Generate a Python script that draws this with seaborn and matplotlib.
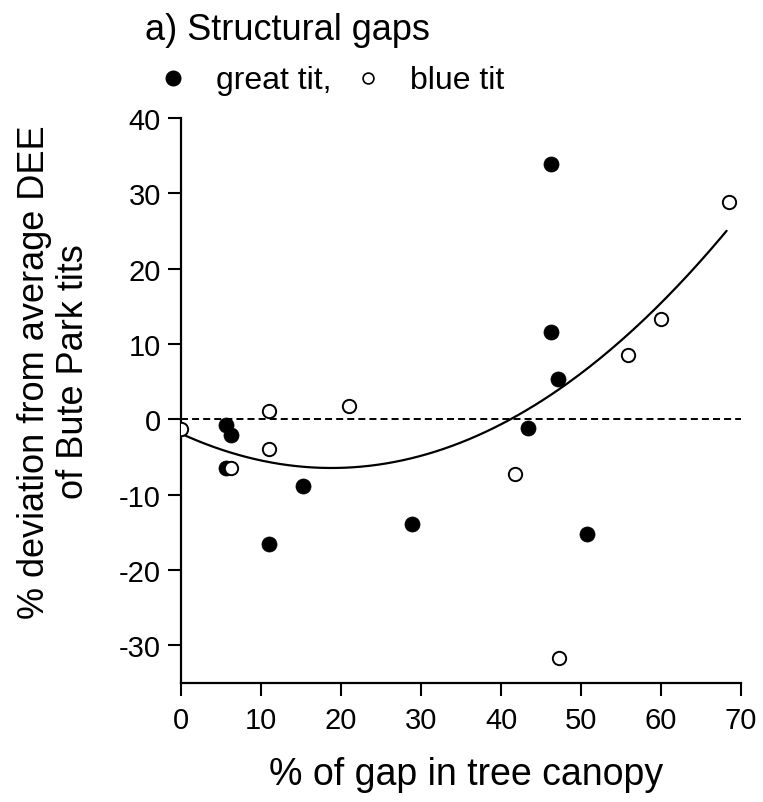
import numpy as np
import pandas as pd
import matplotlib
matplotlib.use("Agg")
import matplotlib.pyplot as plt
from matplotlib.lines import Line2D
import seaborn as sns

sns.set_style("ticks")
plt.rcParams['font.family'] = ['Liberation Sans', 'DejaVu Sans']
plt.rcParams['axes.unicode_minus'] = False
plt.rcParams['text.color'] = 'black'
plt.rcParams['axes.labelcolor'] = 'black'
plt.rcParams['xtick.color'] = 'black'
plt.rcParams['ytick.color'] = 'black'
plt.rcParams['axes.edgecolor'] = 'black'

# Data
great_gap = [5.6, 6.2, 5.6, 15.2, 11.0, 28.9, 46.3, 46.3, 47.1, 43.4, 50.8]
great_dev = [-0.7, -2.1, -6.5, -8.9, -16.6, -13.9, 33.9, 11.6, 5.4, -1.15, -15.2]
blue_gap = [0.0, 11.0, 21.0, 11.0, 6.25, 68.5, 60.0, 55.9, 41.8, 47.3]
blue_dev = [-1.3, 1.1, 1.8, -4.0, -6.5, 28.8, 13.3, 8.5, -7.3, -31.7]

# quadratic fit shown in the reference (intercept, linear, quadratic), fitted range
fit_coef = [-1.9, -0.485, 0.0129]
fit_range = [0.0, 68.2]

x_ticks = [0, 10, 20, 30, 40, 50, 60, 70]
y_ticks = [-30, -20, -10, 0, 10, 20, 30, 40]

df = pd.DataFrame({
    "gap": great_gap + blue_gap,
    "dev": great_dev + blue_dev,
    "species": ["great tit"] * len(great_gap) + ["blue tit"] * len(blue_gap),
})

fx = np.linspace(fit_range[0], fit_range[1], 200)
fit_df = pd.DataFrame({"gap": fx,
                       "dev": fit_coef[0] + fit_coef[1] * fx + fit_coef[2] * fx ** 2})

W, H = 763, 803
fig = plt.figure(figsize=(W / 100, H / 100), dpi=100)
ax = fig.add_axes([181 / W, 1 - 684 / H, (741 - 181) / W, (684 - 119) / H])

# zero reference line
ax.axhline(0, color="black", lw=1.4, ls=(0, (3.6, 2.1)), zorder=1)

sns.lineplot(data=fit_df, x="gap", y="dev", ax=ax, color="black", lw=1.6, zorder=2)

sns.scatterplot(data=df[df.species == "great tit"], x="gap", y="dev", ax=ax,
                color="black", edgecolor="black", s=118, linewidth=0.5, zorder=3, legend=False)
sns.scatterplot(data=df[df.species == "blue tit"], x="gap", y="dev", ax=ax,
                facecolor="white", edgecolor="black", s=92, linewidth=1.4, zorder=3, legend=False)

ax.set_xlim(0, 70)
ax.set_ylim(-35, 40)
ax.set_xticks(x_ticks)
ax.set_yticks(y_ticks)
ax.tick_params(axis="both", labelsize=21, length=9.4, width=1.5, color="black",
               labelcolor="black")
ax.tick_params(axis="x", pad=7)
ax.tick_params(axis="y", pad=5)
for s in ["top", "right"]:
    ax.spines[s].set_visible(False)
for s in ["left", "bottom"]:
    ax.spines[s].set_linewidth(1.6)
    ax.spines[s].set_color("black")

ax.set_xlabel("")
ax.set_ylabel("")
fig.text(466 / W, 1 - 785 / H, "% of gap in tree canopy", fontsize=27,
         ha="center", va="baseline", color="black")
fig.text(54 / W, 1 - 372 / H, "% deviation from average DEE\nof Bute Park tits",
         fontsize=26, rotation=90, ha="center", va="center", multialignment="center",
         linespacing=1.15, color="black")

fig.text(145 / W, 1 - 40 / H, "a) Structural gaps", fontsize=26, ha="left", va="baseline",
         color="black")

# legend row
fig.add_artist(Line2D([172.7 / W], [1 - 79 / H], transform=fig.transFigure, ls="none",
                      marker="o", color="black", markersize=10.5))
fig.add_artist(Line2D([367.7 / W], [1 - 79 / H], transform=fig.transFigure, ls="none",
                      marker="o", markerfacecolor="white", markeredgecolor="black",
                      markersize=7.8, markeredgewidth=1.2))
fig.text(216 / W, 1 - 89 / H, "great tit,", fontsize=23, ha="left", va="baseline",
         color="black")
fig.text(410 / W, 1 - 89 / H, "blue tit", fontsize=23, ha="left", va="baseline",
         color="black")

fig.savefig("out.png", dpi=100)
